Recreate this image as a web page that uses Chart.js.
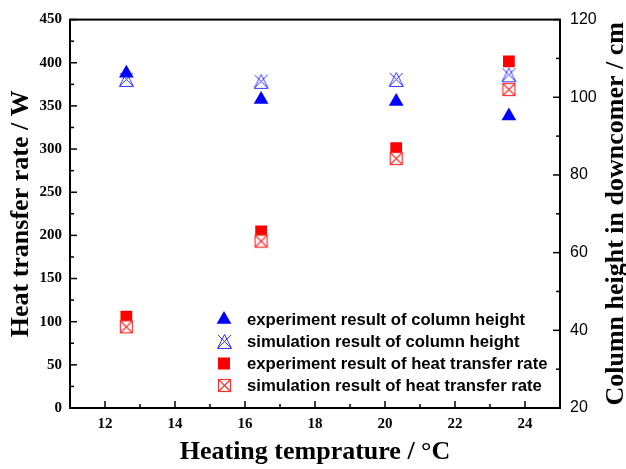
<!DOCTYPE html>
<html><head><meta charset="utf-8">
<script src="https://cdn.jsdelivr.net/npm/chart.js@4/dist/chart.umd.min.js"></script>
<style>html,body{margin:0;padding:0;background:#fff}#wrap{width:626px;height:469px;position:relative}</style>
</head><body><div id="wrap"><canvas id="c" width="626" height="469"></canvas></div>
<script>
// ---- data ----
const temperatures = [12.61, 16.46, 20.32, 23.54];
const expColumnHeight = [106.2, 99.4, 98.9, 95.2];
const simColumnHeight = [104.6, 104.1, 104.6, 105.8];
const expHeatRate = [106, 204.6, 301, 401.7];
const simHeatRate = [94, 193.3, 289, 369];
const xTickLabels = [12, 14, 16, 18, 20, 22, 24];
const heatTickLabels = [0, 50, 100, 150, 200, 250, 300, 350, 400, 450];
const heightTickLabels = [20, 40, 60, 80, 100, 120];
const legendLabels = [
  'experiment result of column height',
  'simulation result of column height',
  'experiment result of heat transfer rate',
  'simulation result of heat transfer rate'
];
const xTitle = 'Heating temprature / \u00B0C';
const leftTitle = 'Heat transfer rate / W';
const rightTitle = 'Column height in downcomer / cm';

// ---- custom marker images ----
function simTriangle() {
  const c = document.createElement('canvas'); c.width = 17; c.height = 17;
  const g = c.getContext('2d');
  g.strokeStyle = '#3535ff'; g.lineWidth = 1;
  g.beginPath();
  g.moveTo(8.5, 1.5); g.lineTo(1.5, 15.5); g.lineTo(15.5, 15.5); g.closePath();
  g.moveTo(2, 2); g.lineTo(15, 15);
  g.moveTo(15, 2); g.lineTo(2, 15);
  g.stroke();
  return c;
}
function simSquare() {
  const c = document.createElement('canvas'); c.width = 15; c.height = 15;
  const g = c.getContext('2d');
  g.fillStyle = '#fff'; g.fillRect(1, 1, 13, 13);
  g.strokeStyle = '#ff3030'; g.lineWidth = 1.2;
  g.strokeRect(1.5, 1.5, 12, 12);
  g.beginPath();
  g.moveTo(1.5, 1.5); g.lineTo(13.5, 13.5);
  g.moveTo(13.5, 1.5); g.lineTo(1.5, 13.5);
  g.stroke();
  return c;
}
const simTriImg = simTriangle();
const simSqImg = simSquare();

const pts = (ys) => temperatures.map((t, i) => ({x: t, y: ys[i]}));

const serifBold = (s) => ({family: 'Liberation Serif', size: s, weight: 'bold'});

const framePlugin = {
  id: 'frameTicks',
  afterDraw(chart) {
    const {ctx, chartArea: a, scales} = chart;
    ctx.save();
    ctx.strokeStyle = '#000';
    ctx.lineWidth = 1.5;
    const line = (x1, y1, x2, y2) => { ctx.beginPath(); ctx.moveTo(x1, y1); ctx.lineTo(x2, y2); ctx.stroke(); };
    const drawTicks = (scale, fn) => {
      const vals = scale.ticks.map(t => t.value);
      vals.forEach(v => fn(scale.getPixelForValue(v), 7));
      for (let i = 0; i < vals.length - 1; i++) fn(scale.getPixelForValue((vals[i] + vals[i + 1]) / 2), 4);
      // minor ticks beyond first/last major within range
      const step = vals[1] - vals[0];
      const lo = vals[0] - step / 2, hi = vals[vals.length - 1] + step / 2;
      if (lo >= scale.min) fn(scale.getPixelForValue(lo), 4);
      if (hi <= scale.max) fn(scale.getPixelForValue(hi), 4);
    };
    drawTicks(scales.x, (p, l) => line(p, a.bottom, p, a.bottom - l));
    drawTicks(scales.y, (p, l) => line(a.left, p, a.left + l, p));
    drawTicks(scales.y1, (p, l) => line(a.right, p, a.right - l, p));
    ctx.lineWidth = 2;
    ctx.strokeRect(a.left, a.top, a.right - a.left, a.bottom - a.top);

    // right axis title, reading bottom-to-top
    ctx.save();
    ctx.translate(616, (a.top + a.bottom) / 2);
    ctx.rotate(-Math.PI / 2);
    ctx.font = 'bold 26px "Liberation Serif"';
    ctx.fillStyle = '#000';
    ctx.textAlign = 'center';
    ctx.textBaseline = 'middle';
    ctx.fillText(rightTitle, 0, 0);
    ctx.restore();

    // legend inside the plot
    const lx = 224, tx = 247, rows = [319.5, 341.5, 363.5, 385.5];
    ctx.font = 'bold 16.7px "Liberation Sans"';
    ctx.textAlign = 'left';
    ctx.textBaseline = 'middle';
    ctx.fillStyle = '#000';
    legendLabels.forEach((lab, i) => {
      const y = rows[i];
      if (i === 0) {
        const r = 8.5;
        ctx.fillStyle = '#0000ff';
        ctx.beginPath();
        ctx.moveTo(lx, y - r); ctx.lineTo(lx - r * Math.sqrt(3) / 2, y + r / 2); ctx.lineTo(lx + r * Math.sqrt(3) / 2, y + r / 2);
        ctx.closePath(); ctx.fill();
      } else if (i === 1) {
        ctx.drawImage(simTriImg, Math.round(lx - simTriImg.width / 2), Math.round(y - simTriImg.height / 2));
      } else if (i === 2) {
        ctx.fillStyle = '#ff0000';
        ctx.fillRect(lx - 6, y - 6, 12, 12);
      } else {
        ctx.drawImage(simSqImg, Math.round(lx - simSqImg.width / 2), Math.round(y - simSqImg.height / 2));
      }
      ctx.fillStyle = '#000';
      ctx.fillText(lab, tx, y + 1);
    });
    ctx.restore();
  }
};

new Chart(document.getElementById('c'), {
  type: 'scatter',
  data: {
    datasets: [
      {label: legendLabels[0], data: pts(expColumnHeight), yAxisID: 'y1', order: 0,
       pointStyle: 'triangle', pointRadius: 8.5, pointBackgroundColor: '#0000ff', pointBorderWidth: 0, pointBorderColor: '#0000ff'},
      {label: legendLabels[1], data: pts(simColumnHeight), yAxisID: 'y1', order: 1,
       pointStyle: simTriImg, pointRadius: 8},
      {label: legendLabels[2], data: pts(expHeatRate), yAxisID: 'y', order: 3,
       pointStyle: 'rect', pointRadius: 8.3, pointBackgroundColor: '#ff0000', pointBorderWidth: 0, pointBorderColor: '#ff0000'},
      {label: legendLabels[3], data: pts(simHeatRate), yAxisID: 'y', order: 2,
       pointStyle: simSqImg, pointRadius: 7}
    ]
  },
  options: {
    responsive: false,
    animation: false,
    devicePixelRatio: 1,
    layout: {padding: {top: 15, left: 0, right: 0, bottom: 0}},
    plugins: {legend: {display: false}, tooltip: {enabled: false}},
    scales: {
      x: {
        type: 'linear', position: 'bottom', min: 11, max: 25,
        afterBuildTicks: s => { s.ticks = xTickLabels.map(v => ({value: v})); },
        afterFit: s => { s.height = 61; },
        grid: {display: false, drawTicks: false},
        border: {display: false},
        ticks: {font: serifBold(15), color: '#000', padding: 7, maxRotation: 0},
        title: {display: true, text: xTitle, font: serifBold(26), color: '#000', padding: {top: 0, bottom: 1}}
      },
      y: {
        type: 'linear', position: 'left', min: 0, max: 450,
        afterBuildTicks: s => { s.ticks = heatTickLabels.map(v => ({value: v})); },
        afterFit: s => { s.width = 70; },
        grid: {display: false, drawTicks: false},
        border: {display: false},
        ticks: {font: serifBold(15), color: '#000', padding: 8},
        title: {display: true, text: leftTitle, font: serifBold(26), color: '#000', padding: {top: 6, bottom: 0}}
      },
      y1: {
        type: 'linear', position: 'right', min: 20, max: 120,
        afterBuildTicks: s => { s.ticks = heightTickLabels.map(v => ({value: v})); },
        afterFit: s => { s.width = 66; },
        grid: {display: false, drawTicks: false},
        border: {display: false},
        ticks: {font: {family: 'Liberation Sans', size: 16}, color: '#000', padding: 10},
        title: {display: false}
      }
    }
  },
  plugins: [framePlugin]
});
</script>
</body></html>
